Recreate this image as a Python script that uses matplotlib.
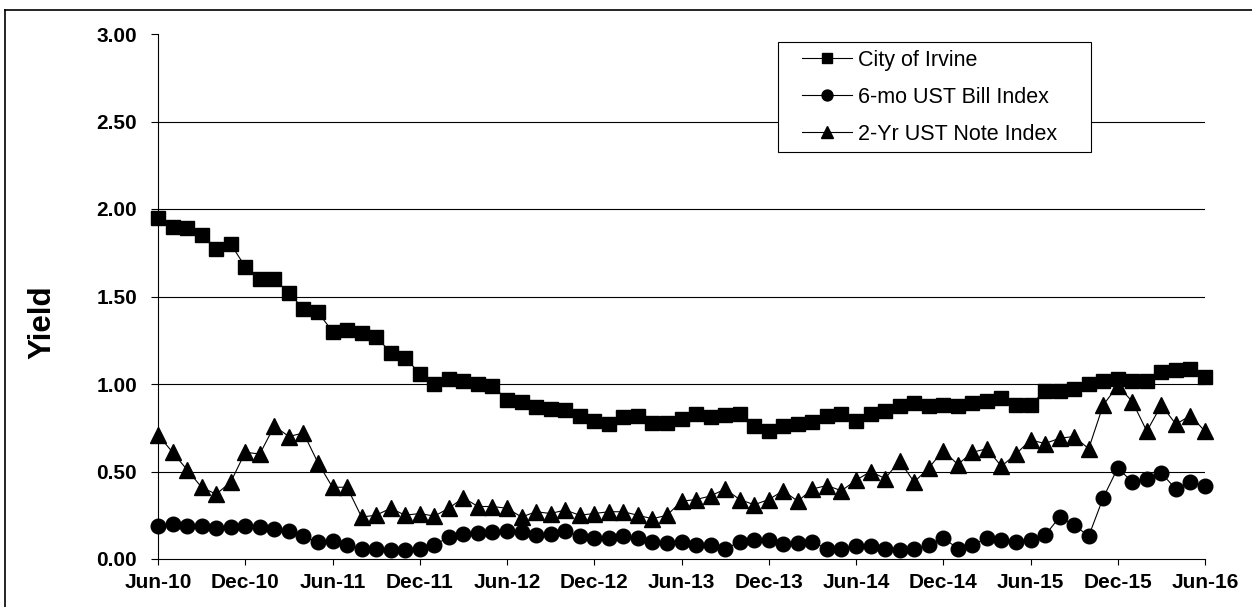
import matplotlib
matplotlib.use("Agg")
import matplotlib.pyplot as plt
from matplotlib.lines import Line2D
from matplotlib.patches import Rectangle
import numpy as np

plt.rcParams['font.family'] = ['Liberation Sans', 'DejaVu Sans']

# ---- data (monthly, Jun-10 .. Jun-16) ----
n_months = 73
tick_labels = ["Jun-10", "Dec-10", "Jun-11", "Dec-11", "Jun-12", "Dec-12", "Jun-13",
               "Dec-13", "Jun-14", "Dec-14", "Jun-15", "Dec-15", "Jun-16"]

city_irvine = [1.95, 1.90, 1.89, 1.85, 1.77, 1.80, 1.67, 1.60, 1.60, 1.52,
               1.43, 1.41, 1.30, 1.31, 1.29, 1.27, 1.18, 1.15, 1.06, 1.00,
               1.03, 1.02, 1.00, 0.99, 0.91, 0.90, 0.87, 0.86, 0.85, 0.82,
               0.79, 0.77, 0.81, 0.82, 0.78, 0.78, 0.80, 0.83, 0.81, 0.825,
               0.83, 0.76, 0.73, 0.76, 0.77, 0.785, 0.82, 0.83, 0.79, 0.83,
               0.845, 0.875, 0.89, 0.875, 0.88, 0.875, 0.89, 0.905, 0.92, 0.88,
               0.88, 0.96, 0.96, 0.97, 1.00, 1.02, 1.03, 1.02, 1.02, 1.07,
               1.08, 1.085, 1.04]

bill_6mo = [0.19, 0.20, 0.19, 0.19, 0.18, 0.185, 0.19, 0.185, 0.17, 0.16,
            0.13, 0.095, 0.105, 0.08, 0.06, 0.06, 0.05, 0.05, 0.055, 0.08,
            0.125, 0.145, 0.15, 0.155, 0.16, 0.155, 0.14, 0.145, 0.16, 0.13,
            0.12, 0.12, 0.13, 0.12, 0.10, 0.09, 0.10, 0.08, 0.08, 0.055,
            0.10, 0.11, 0.11, 0.085, 0.09, 0.095, 0.06, 0.06, 0.075, 0.075,
            0.06, 0.05, 0.055, 0.08, 0.12, 0.06, 0.08, 0.12, 0.11, 0.095,
            0.11, 0.135, 0.24, 0.195, 0.13, 0.35, 0.52, 0.44, 0.46, 0.49,
            0.40, 0.44, 0.42]

note_2yr = [0.71, 0.61, 0.51, 0.41, 0.37, 0.44, 0.61, 0.60, 0.76, 0.70,
            0.72, 0.55, 0.41, 0.41, 0.24, 0.25, 0.29, 0.25, 0.26, 0.245,
            0.29, 0.35, 0.30, 0.30, 0.29, 0.24, 0.27, 0.26, 0.28, 0.25,
            0.26, 0.27, 0.27, 0.25, 0.23, 0.25, 0.33, 0.34, 0.36, 0.40,
            0.34, 0.31, 0.34, 0.39, 0.33, 0.40, 0.42, 0.39, 0.45, 0.50,
            0.46, 0.56, 0.44, 0.52, 0.62, 0.54, 0.61, 0.63, 0.53, 0.60,
            0.68, 0.66, 0.69, 0.70, 0.63, 0.88, 0.99, 0.90, 0.73, 0.88,
            0.77, 0.82, 0.73]

series_names = ["City of Irvine", "6-mo UST Bill Index", "2-Yr UST Note Index"]
y_ticks = [0.0, 0.5, 1.0, 1.5, 2.0, 2.5, 3.0]

x = np.arange(n_months)

W, H = 1252, 607
fig = plt.figure(figsize=(W / 100, H / 100), dpi=100)
ax = fig.add_axes([158 / W, 1 - 559 / H, (1205 - 158) / W, (559 - 34) / H])

# outer frame of the scanned chart
fig.add_artist(Line2D([5 / W, 5 / W], [0, 1 - 10 / H], transform=fig.transFigure, color='black', lw=1.2))
fig.add_artist(Line2D([5 / W, 1], [1 - 10 / H, 1 - 10 / H], transform=fig.transFigure, color='black', lw=1.2))

# gridlines
for g in y_ticks[1:-1]:
    ax.axhline(g, color='black', lw=0.8, zorder=1)

ms = 10
ax.plot(x, city_irvine, color='black', lw=0.8, marker='s', ms=ms, mfc='black', mec='black',
        clip_on=False, zorder=3, label=series_names[0])
ax.plot(x, bill_6mo, color='black', lw=0.8, marker='o', ms=ms + 0.5, mfc='black', mec='black',
        clip_on=False, zorder=3, label=series_names[1])
ax.plot(x, note_2yr, color='black', lw=0.8, marker='^', ms=ms + 1, mfc='black', mec='black',
        clip_on=False, zorder=3, label=series_names[2])

ax.set_xlim(0, n_months - 1)
ax.set_ylim(0, 3.0)
ax.set_xticks(np.arange(0, n_months, 6))
ax.set_xticklabels(tick_labels, fontsize=15, fontweight='bold')
ax.set_yticks(y_ticks)
ax.set_yticklabels([f"{v:.2f}" for v in y_ticks], fontsize=15, fontweight='bold')
ax.tick_params(axis='y', direction='out', length=5, width=0.8, pad=10)
ax.tick_params(axis='x', direction='out', length=4, width=0.8, pad=6)

for s in ['top', 'right']:
    ax.spines[s].set_visible(False)
for s in ['left', 'bottom']:
    ax.spines[s].set_linewidth(0.8)

ax.set_ylabel("Yield", fontsize=22.5, fontweight='bold')
ax.yaxis.set_label_coords((57 - 158) / (1205 - 158), (559 - 322) / (559 - 34))

# legend box (drawn separately for exact placement)
box = Rectangle((778 / W, 1 - 152 / H), (1091 - 778) / W, (152 - 42) / H,
                transform=fig.transFigure, facecolor='white', edgecolor='black',
                lw=0.8, zorder=4)
fig.add_artist(box)

leg = ax.legend(loc='upper left', bbox_to_anchor=(802 / W, 1 - 50 / H),
                bbox_transform=fig.transFigure, frameon=False, fontsize=15.5,
                markerscale=0.75, handlelength=2.33, handletextpad=0.28,
                labelspacing=0.74, borderpad=0, borderaxespad=0)
leg.set_zorder(6)
fig.add_artist(leg)

fig.savefig("out.png", dpi=100)
